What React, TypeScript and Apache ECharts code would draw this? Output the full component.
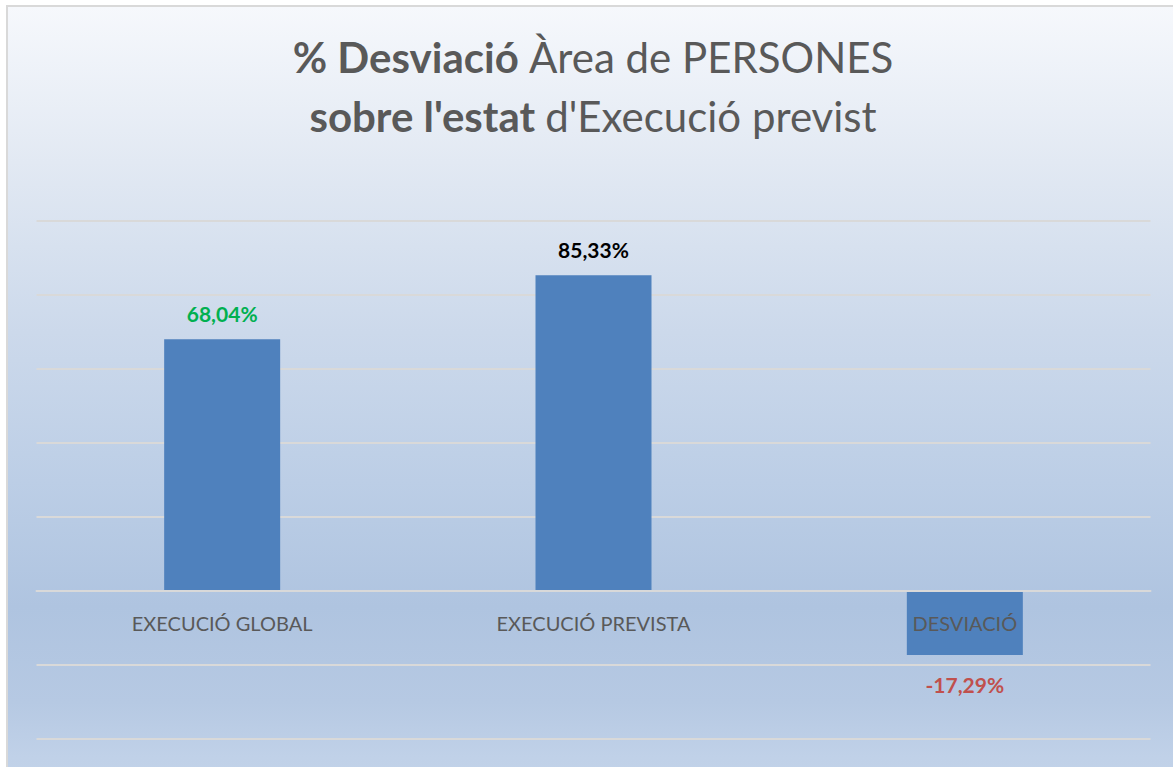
import React, { useEffect, useRef } from "react";
import * as echarts from "echarts";

const categories = ["EXECUCIÓ GLOBAL", "EXECUCIÓ PREVISTA", "DESVIACIÓ"];
const values = [68.04, 85.33, -17.29];
const labelColors = ["#00B050", "#000000", "#C0504D"];
const titleLine1 = ["% Desviació", "Àrea de PERSONES"];
const titleLine2 = ["sobre l'estat", "d'Execució previst"];

const FONT = "Lato, 'Open Sans', sans-serif";

export default function App() {
  const ref = useRef<HTMLDivElement>(null);
  useEffect(() => {
    if (!ref.current) return;
    const chart = echarts.init(ref.current, null, { renderer: "svg" });
    const rich = {
      b: { fontFamily: FONT, fontWeight: "bold", fontSize: 42, fill: "#595959", color: "#595959" },
      n: { fontFamily: FONT, fontWeight: "normal", fontSize: 42, fill: "#595959", color: "#595959" },
    };
    chart.setOption({
      animation: false,
      textStyle: { fontFamily: FONT },
      graphic: [
        {
          type: "text",
          x: 593,
          y: 57,
          style: {
            text: `{b|${titleLine1[0]} }{n|${titleLine1[1]}}`,
            rich,
            textAlign: "center",
            textVerticalAlign: "middle",
          },
        },
        {
          type: "text",
          x: 593,
          y: 116,
          style: {
            text: `{b|${titleLine2[0]} }{n|${titleLine2[1]}}`,
            rich,
            textAlign: "center",
            textVerticalAlign: "middle",
          },
        },
      ],
      grid: {
        left: 36.5,
        right: 22.5,
        top: 221,
        bottom: 28,
        containLabel: false,
        outerBoundsMode: "none",
      },
      xAxis: {
        type: "category",
        data: categories,
        z: 5,
        offset: -148,
        axisLine: { onZero: false, lineStyle: { color: "#d9d9d9", width: 2 } },
        axisTick: { show: false },
        axisLabel: {
          color: "#595959",
          fontSize: 20,
          fontFamily: FONT,
          margin: 22,
        },
        splitLine: { show: false },
      },
      yAxis: {
        type: "value",
        min: -40,
        max: 100,
        interval: 20,
        axisLabel: { show: false },
        axisLine: { show: false },
        axisTick: { show: false },
        splitLine: { lineStyle: { color: "#d9d9d9", width: 2 } },
      },
      series: [
        {
          type: "bar",
          barWidth: 116,
          data: values.map((v, i) => ({
            value: v,
            label: {
              show: true,
              position: v >= 0 ? "top" : "bottom",
              distance: v >= 0 ? 15 : 19,
              color: labelColors[i],
              fontWeight: "bold",
              fontSize: 21,
              fontFamily: FONT,
              formatter: () => v.toFixed(2).replace(".", ",") + "%",
            },
          })),
          itemStyle: { color: "#4F81BD" },
        },
      ],
    });
    return () => chart.dispose();
  }, []);

  return (
    <div style={{ position: "fixed", left: 0, top: 0, width: 1173, height: 767, overflow: "hidden", background: "#ffffff" }}>
      <div
        style={{
          position: "absolute",
          left: 6,
          top: 5,
          width: 1200,
          height: 800,
          borderLeft: "2px solid #d9d9d9",
          borderTop: "2px solid #d9d9d9",
          background:
            "linear-gradient(to bottom, #f6f8fc 0px, #e2e9f3 155px, #ccd9eb 325px, #bccee6 475px, #afc4e0 600px, #b6c9e3 695px, #c0d1e8 750px, #c4d4e9 800px)",
        }}
      />
      <div ref={ref} style={{ position: "absolute", left: 0, top: 0, width: 1173, height: 767 }} />
    </div>
  );
}
